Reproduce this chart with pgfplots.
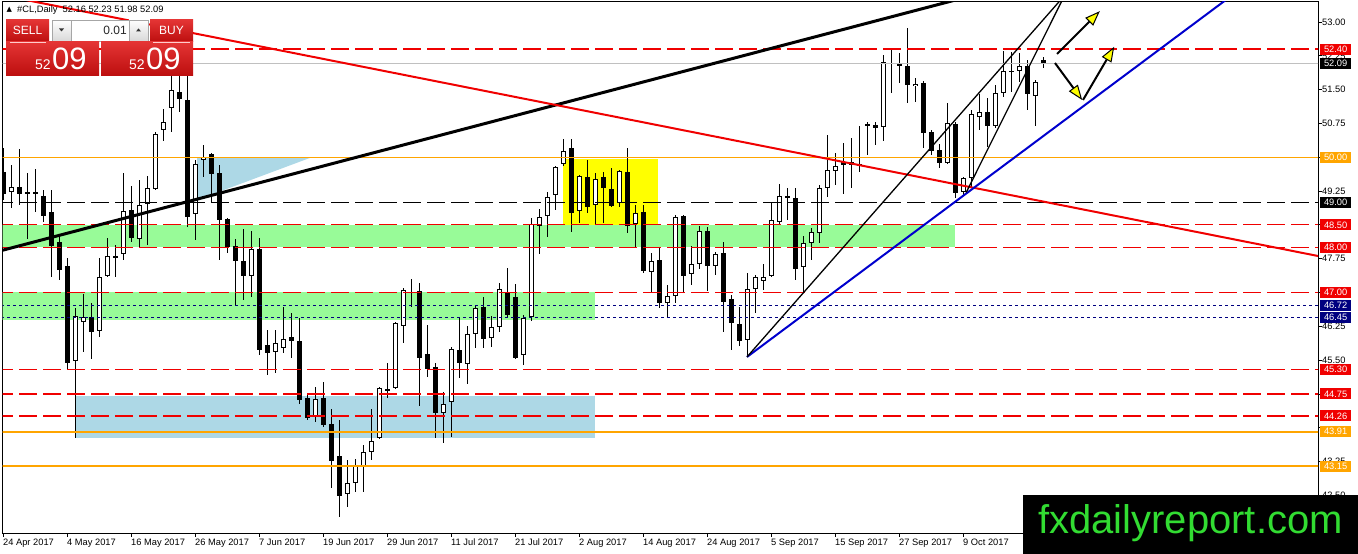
\documentclass[border=0pt]{standalone}
\usepackage{pgfplots}
\pgfplotsset{compat=1.18}
\usepackage{pgfplotstable}
\usepackage{fontspec}
\setmainfont{Liberation Sans}
\newfontfamily\dejavu{DejaVu Sans}
\usetikzlibrary{arrows.meta}
\definecolor{mtred}{RGB}{240,0,0}
\definecolor{mtorange}{RGB}{255,165,0}
\definecolor{mtnavy}{RGB}{0,0,128}
\definecolor{mtgreen}{RGB}{152,251,152}
\definecolor{mtlblue}{RGB}{173,216,230}
\definecolor{mtyellow}{RGB}{255,255,0}
\definecolor{tlblue}{RGB}{0,0,205}
\definecolor{wmgreen}{RGB}{50,220,50}
\definecolor{silverline}{RGB}{192,192,192}
\definecolor{btntop}{RGB}{228,52,52}
\definecolor{btnbot}{RGB}{188,14,14}
\newcommand{\tf}{\fontsize{9.3bp}{11bp}\selectfont}
\pgfplotstableread{
i o h l c
0 49.67 50.20 49.05 49.18
1 49.23 49.83 48.87 49.35
2 49.34 50.18 48.94 49.18
3 49.22 49.65 48.19 49.20
4 49.23 49.74 48.79 49.18
5 49.14 49.27 48.56 48.70
6 48.79 49.27 47.34 48.03
7 48.12 48.23 47.28 47.50
8 47.59 47.76 45.28 45.44
9 45.48 46.66 43.77 46.48
10 46.35 46.97 45.68 46.46
11 46.46 46.77 45.52 46.12
12 46.15 47.76 46.01 47.34
13 47.37 48.21 47.34 47.81
14 47.80 48.05 47.34 47.78
15 47.85 49.65 47.72 48.81
16 48.83 49.36 48.12 48.21
17 48.19 49.50 48.01 48.94
18 48.96 49.58 48.05 49.32
19 49.30 50.55 49.27 50.52
20 50.60 51.07 50.36 50.78
21 51.09 51.90 50.56 51.49
22 51.45 51.95 51.00 51.29
23 51.27 52.00 48.45 48.67
24 48.74 49.94 48.16 49.85
25 49.94 50.27 49.56 50.01
26 50.07 50.10 49.00 49.63
27 49.65 49.83 47.72 48.61
28 48.63 48.65 47.88 48.01
29 48.03 48.19 46.70 47.70
30 47.70 48.41 46.83 47.37
31 47.37 48.36 46.90 47.96
32 47.96 48.21 45.61 45.72
33 45.83 46.17 45.17 45.66
34 45.68 46.17 45.21 45.88
35 45.77 46.68 45.66 45.97
36 46.01 46.55 45.55 45.92
37 45.92 46.43 44.53 44.61
38 44.66 44.77 44.17 44.22
39 44.24 44.90 44.13 44.64
40 44.66 45.01 44.02 44.06
41 44.08 44.42 42.66 43.26
42 43.37 44.17 42.02 42.49
43 42.53 43.28 42.24 42.77
44 42.77 43.30 42.57 43.15
45 43.15 43.62 42.57 43.46
46 43.46 44.42 43.28 43.71
47 43.77 44.90 43.75 44.88
48 44.85 45.44 44.66 44.83
49 44.88 46.34 44.86 46.32
50 46.26 47.10 45.88 47.06
51 47.01 47.30 46.68 46.99
52 47.04 47.21 44.48 45.55
53 45.63 46.28 45.12 45.30
54 45.35 45.44 43.77 44.33
55 44.33 44.79 43.66 44.53
56 44.57 45.79 43.79 45.75
57 45.72 46.46 45.10 45.44
58 45.41 46.26 44.97 46.08
59 46.08 46.72 45.77 46.66
60 46.68 46.90 45.77 45.97
61 45.99 46.48 45.79 46.23
62 46.23 47.21 46.12 47.08
63 46.99 47.54 46.43 46.50
64 46.90 47.19 45.52 45.55
65 45.61 46.50 45.39 46.43
66 46.46 48.65 46.37 48.52
67 48.48 48.85 47.85 48.67
68 48.70 49.23 48.23 49.12
69 49.16 49.81 48.83 49.78
70 49.85 50.40 49.80 50.14
71 50.21 50.40 48.34 48.76
72 48.81 49.60 48.54 49.58
73 49.56 49.94 48.76 48.90
74 48.94 49.65 48.50 49.52
75 49.56 49.67 48.54 49.32
76 49.30 49.76 48.90 48.92
77 48.98 49.72 48.90 49.69
78 49.67 50.20 48.32 48.48
79 48.52 48.94 48.01 48.76
80 48.79 48.94 47.43 47.48
81 47.45 47.88 46.99 47.70
82 47.72 47.99 46.66 46.77
83 46.77 47.17 46.43 46.92
84 46.92 48.72 46.77 48.67
85 48.70 48.72 46.99 47.37
86 47.41 48.03 47.17 47.63
87 47.63 48.47 47.52 48.36
88 48.36 48.45 47.03 47.59
89 47.59 47.90 47.39 47.85
90 47.88 48.12 46.12 46.79
91 46.86 46.94 45.72 46.32
92 46.30 46.68 45.81 45.92
93 45.95 47.43 45.57 47.08
94 47.08 47.39 46.54 47.34
95 47.25 47.63 47.06 47.34
96 47.37 48.99 47.34 48.61
97 48.56 49.41 48.50 49.14
98 49.12 49.32 48.61 49.12
99 49.10 49.32 47.28 47.52
100 47.57 48.25 47.01 48.10
101 48.10 48.43 47.72 48.34
102 48.32 49.38 48.10 49.32
103 49.32 50.49 49.12 49.72
104 49.69 50.09 49.38 49.81
105 49.90 50.32 49.18 49.83
106 49.90 50.43 49.32 49.83
107 49.83 50.69 49.67 49.83
108 50.72 50.78 50.05 50.72
109 50.72 50.78 50.27 50.65
110 50.67 52.27 50.36 52.11
111 52.09 52.42 51.43 52.09
112 52.09 52.31 51.65 52.02
113 52.02 52.87 51.20 51.60
114 51.58 51.76 51.23 51.63
115 51.65 51.69 50.20 50.54
116 50.56 50.60 50.05 50.14
117 50.16 50.29 49.76 49.87
118 49.87 51.20 49.85 50.76
119 50.74 50.78 49.10 49.21
120 49.23 49.56 49.14 49.54
121 49.54 51.05 49.34 50.96
122 50.89 51.40 50.60 51.00
123 51.00 51.31 50.23 50.69
124 50.69 51.60 50.65 51.43
125 51.43 52.36 51.34 51.91
126 51.91 52.33 51.45 51.91
127 51.91 52.31 51.67 52.02
128 52.02 52.16 51.05 51.40
129 51.36 51.71 50.69 51.67
130 52.16 52.23 51.98 52.09
}\data
\begin{document}
\begin{tikzpicture}
\useasboundingbox (0,0) rectangle (1358bp,554bp);
\begin{axis}[
  at={(2.5bp,21bp)}, anchor=south west,
  scale only axis, width=1315.5bp, height=531bp,
  xmin=-0.0625, xmax=164.375, ymin=41.6646, ymax=53.4437,
  axis line style={black, line width=1bp},
  tick align=outside, xtick pos=bottom, ytick pos=right,
  yticklabel pos=right,
  major tick length=4bp,
  tick style={black, line width=0.8bp},
  xtick={0,8,16,24,32,40,48,56,64,72,80,88,96,104,112,120},
  xticklabels={24 Apr 2017,4 May 2017,16 May 2017,26 May 2017,7 Jun 2017,19 Jun 2017,29 Jun 2017,11 Jul 2017,21 Jul 2017,2 Aug 2017,14 Aug 2017,24 Aug 2017,5 Sep 2017,15 Sep 2017,27 Sep 2017,9 Oct 2017},
  xticklabel style={anchor=north west, inner sep=0pt, yshift=-2bp, font=\tf},
  ytick={42.5,43.25,44,44.75,45.5,46.25,47,47.75,48.5,49.25,50,50.75,51.5,52.25,53},
  yticklabels={42.50,43.25,,,45.50,46.25,,47.75,,49.25,,50.75,51.50,52.25,53.00},
  yticklabel style={anchor=west, inner sep=0pt, font=\tf},
  clip mode=individual,
]
% zones
\addplot[fill=mtgreen, draw=none] coordinates {(-1,48.00) (119,48.00) (119,48.50) (-1,48.50)};
\addplot[fill=mtgreen, draw=none] coordinates {(-1,46.39) (74,46.39) (74,47.00) (-1,47.00)};
\addplot[fill=mtlblue, draw=none] coordinates {(9,43.77) (74,43.77) (74,44.70) (9,44.70)};
\addplot[fill=mtlblue, draw=none] coordinates {(24.25,50.00) (38.6,50.00) (24.25,49.05)};
\addplot[fill=mtyellow, draw=none] coordinates {(70,48.50) (81.9,48.50) (81.9,49.97) (70,49.97)};
% candles: wicks
\addplot[draw=none, mark=none, error bars/.cd, y dir=both, y explicit, error mark=none,
  error bar style={draw=black, solid, line width=1bp}]
  table[x=i, y expr={(\thisrow{h}+\thisrow{l})/2}, y error expr={(\thisrow{h}-\thisrow{l})/2}] {\data};
% bodies outer
\addplot[draw=none, mark=none, error bars/.cd, y dir=both, y explicit, error mark=none,
  error bar style={draw=black, solid, line width=5bp}]
  table[x=i, y expr={(\thisrow{o}+\thisrow{c})/2}, y error expr={max(abs(\thisrow{c}-\thisrow{o})/2,0.0111)}] {\data};
% bodies inner white
\addplot[draw=none, mark=none, error bars/.cd, y dir=both, y explicit, error mark=none,
  error bar style={draw=white, solid, line width=3bp}]
  table[x=i, y expr={(\thisrow{o}+\thisrow{c})/2}, y error expr={(\thisrow{c}>\thisrow{o})*max((\thisrow{c}-\thisrow{o})/2-0.0222,0)}] {\data};
% horizontal levels
\addplot[silverline, line width=0.8bp] coordinates {(-1,52.09) (166,52.09)};
\addplot[mtred, line width=1.2bp, dash pattern=on 18bp off 6bp] coordinates {(-1,52.40) (166,52.40)};
\addplot[mtorange, line width=1bp] coordinates {(-1,50.00) (166,50.00)};
\addplot[black, line width=1bp, dash pattern=on 18bp off 6bp] coordinates {(-1,49.00) (166,49.00)};
\addplot[mtred, line width=1.2bp, dash pattern=on 18bp off 6bp] coordinates {(-1,48.50) (166,48.50)};
\addplot[mtred, line width=1.2bp, dash pattern=on 18bp off 6bp] coordinates {(-1,48.00) (166,48.00)};
\addplot[mtred, line width=1.2bp, dash pattern=on 18bp off 6bp] coordinates {(-1,47.00) (166,47.00)};
\addplot[mtnavy, line width=1bp, dash pattern=on 3bp off 3bp] coordinates {(-1,46.72) (166,46.72)};
\addplot[mtnavy, line width=1bp, dash pattern=on 3bp off 3bp] coordinates {(-1,46.45) (166,46.45)};
\addplot[mtred, line width=1.2bp, dash pattern=on 18bp off 6bp] coordinates {(-1,45.30) (166,45.30)};
\addplot[mtred, line width=1.2bp, dash pattern=on 18bp off 6bp] coordinates {(-1,44.75) (166,44.75)};
\addplot[mtred, line width=1.2bp, dash pattern=on 18bp off 6bp] coordinates {(-1,44.26) (166,44.26)};
\addplot[mtorange, line width=2bp] coordinates {(-1,43.91) (166,43.91)};
\addplot[mtorange, line width=2bp] coordinates {(-1,43.15) (166,43.15)};
% trend lines
\addplot[black, line width=3bp] coordinates {(-1,47.893) (125,53.765)};
\addplot[mtred, line width=2bp] coordinates {(-1,53.624) (166,47.752)};
\addplot[tlblue, line width=2bp] coordinates {(93,45.57) (160,54.434)};
\addplot[black, line width=1.3bp] coordinates {(93,45.57) (135,54.054)};
\addplot[black, line width=1.3bp] coordinates {(120.4,49.22) (134,54.05)};
% arrows
\addplot[black, line width=2bp, -{Triangle[length=15bp,width=11bp,fill=mtyellow,line width=1bp]}] coordinates {(131.75,52.29) (137.1,53.24)};
\addplot[black, line width=2bp, -{Triangle[length=15bp,width=11bp,fill=mtyellow,line width=1bp]}] coordinates {(131.5,52.09) (134.9,51.27)};
\addplot[black, line width=2bp, -{Triangle[length=15bp,width=11bp,fill=mtyellow,line width=1bp]}] coordinates {(135.0,51.27) (138.9,52.45)};
% tag anchors
\coordinate (T1) at (axis cs:164.375,52.40);
\coordinate (T2) at (axis cs:164.375,52.09);
\coordinate (T3) at (axis cs:164.375,50.00);
\coordinate (T4) at (axis cs:164.375,49.00);
\coordinate (T5) at (axis cs:164.375,48.50);
\coordinate (T6) at (axis cs:164.375,48.00);
\coordinate (T7) at (axis cs:164.375,47.00);
\coordinate (T8) at (axis cs:164.375,46.72);
\coordinate (T9) at (axis cs:164.375,46.45);
\coordinate (T10) at (axis cs:164.375,45.30);
\coordinate (T11) at (axis cs:164.375,44.75);
\coordinate (T12) at (axis cs:164.375,44.26);
\coordinate (T13) at (axis cs:164.375,43.91);
\coordinate (T14) at (axis cs:164.375,43.15);
\end{axis}
\tikzset{ptag/.style={anchor=west, xshift=2bp, inner sep=0pt, minimum width=31bp, minimum height=11bp, text=white, font=\tf}}
\node[ptag, fill=mtred] at (T1) {52.40};
\node[ptag, fill=black] at (T2) {52.09};
\node[ptag, fill=mtorange] at (T3) {50.00};
\node[ptag, fill=black] at (T4) {49.00};
\node[ptag, fill=mtred] at (T5) {48.50};
\node[ptag, fill=mtred] at (T6) {48.00};
\node[ptag, fill=mtred] at (T7) {47.00};
\node[ptag, fill=mtnavy] at (T8) {46.72};
\node[ptag, fill=mtnavy] at (T9) {46.45};
\node[ptag, fill=mtred] at (T10) {45.30};
\node[ptag, fill=mtred] at (T11) {44.75};
\node[ptag, fill=mtred] at (T12) {44.26};
\node[ptag, fill=mtorange] at (T13) {43.91};
\node[ptag, fill=mtorange] at (T14) {43.15};
% title
\node[anchor=west, inner sep=0pt, font=\fontsize{7bp}{8bp}\selectfont\dejavu] at (6.5bp,544bp) {▲};
\node[anchor=west, inner sep=0pt, font=\tf] at (17bp,544bp) {\#CL,Daily\ \ 52.16 52.23 51.98 52.09};
% trading panel
\shade[top color=btntop, bottom color=btnbot] (6bp,512bp) rectangle (49bp,534bp);
\shade[top color=btntop, bottom color=btnbot] (150bp,512bp) rectangle (193bp,534bp);
\shade[top color=white, bottom color=black!15, draw=black!35] (52bp,513bp) rectangle (71bp,534bp);
\shade[top color=white, bottom color=black!15, draw=black!35] (129bp,513bp) rectangle (148bp,534bp);
\draw[black!35, fill=white] (71bp,513bp) rectangle (129bp,534bp);
\shade[top color=btntop, bottom color=btnbot] (6bp,478bp) rectangle (99bp,512bp);
\shade[top color=btntop, bottom color=btnbot] (101bp,478bp) rectangle (193bp,512bp);
\draw[white!80!red, line width=0.6bp] (10bp,512bp) -- (46bp,512bp);
\draw[white!80!red, line width=0.6bp] (153bp,512bp) -- (190bp,512bp);
\node[text=white, font=\fontsize{12bp}{14bp}\selectfont, inner sep=0pt] at (27.5bp,523.5bp) {SELL};
\node[text=white, font=\fontsize{12bp}{14bp}\selectfont, inner sep=0pt] at (171.5bp,523.5bp) {BUY};
\node[anchor=east, text=black!85, font=\fontsize{12bp}{14bp}\selectfont, inner sep=0pt] at (127bp,523.5bp) {0.01};
\fill[black!80] (59bp,525.5bp) -- (64bp,525.5bp) -- (61.5bp,522.5bp) -- cycle;
\fill[black!80] (136bp,522.5bp) -- (141bp,522.5bp) -- (138.5bp,525.5bp) -- cycle;
\node[anchor=base west, text=white, font=\fontsize{14bp}{16bp}\selectfont, inner sep=0pt] at (35bp,484bp) {52};
\node[anchor=base west, text=white, font=\fontsize{31bp}{34bp}\selectfont, inner sep=0pt] at (52bp,484bp) {09};
\node[anchor=base west, text=white, font=\fontsize{14bp}{16bp}\selectfont, inner sep=0pt] at (129bp,484bp) {52};
\node[anchor=base west, text=white, font=\fontsize{31bp}{34bp}\selectfont, inner sep=0pt] at (146bp,484bp) {09};
% watermark
\fill[black] (1023bp,0bp) rectangle (1358bp,59bp);
\node[anchor=base west, text=wmgreen, font=\fontsize{40bp}{44bp}\selectfont, inner sep=0pt] at (1038bp,21bp) {fxdailyreport.com};
\end{tikzpicture}
\end{document}
